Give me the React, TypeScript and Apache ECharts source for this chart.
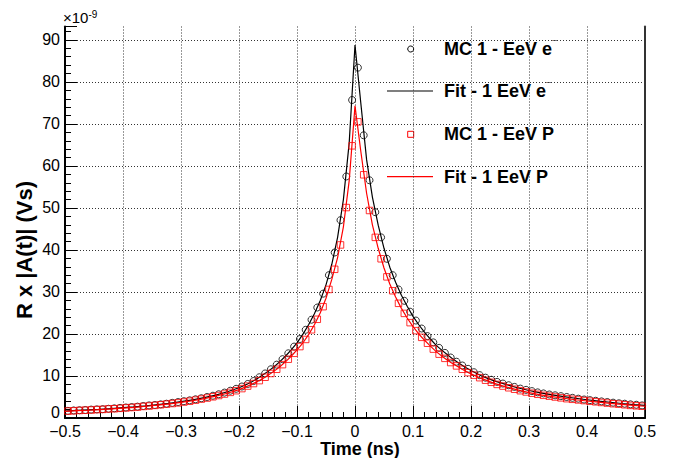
import React, { useEffect, useRef } from "react";
import * as echarts from "echarts";

// MC sample times (ns)
const mcTime = [
  -0.495, -0.485, -0.475, -0.465, -0.455, -0.445, -0.435, -0.425, -0.415, -0.405,
  -0.395, -0.385, -0.375, -0.365, -0.355, -0.345, -0.335, -0.325, -0.315, -0.305,
  -0.295, -0.285, -0.275, -0.265, -0.255, -0.245, -0.235, -0.225, -0.215, -0.205,
  -0.195, -0.185, -0.175, -0.165, -0.155, -0.145, -0.135, -0.125, -0.115, -0.105,
  -0.095, -0.085, -0.075, -0.065, -0.055, -0.045, -0.035, -0.025, -0.015, -0.005,
  0.005, 0.015, 0.025, 0.035, 0.045, 0.055, 0.065, 0.075, 0.085, 0.095,
  0.105, 0.115, 0.125, 0.135, 0.145, 0.155, 0.165, 0.175, 0.185, 0.195,
  0.205, 0.215, 0.225, 0.235, 0.245, 0.255, 0.265, 0.275, 0.285, 0.295,
  0.305, 0.315, 0.325, 0.335, 0.345, 0.355, 0.365, 0.375, 0.385, 0.395,
  0.405, 0.415, 0.425, 0.435, 0.445, 0.455, 0.465, 0.475, 0.485, 0.495,
];

// MC 1 - EeV e- (x1e-9 Vs)
const mcElectron = [
  1.7, 1.8, 1.85, 1.9, 2.0, 2.05, 2.1, 2.2, 2.3, 2.4,
  2.5, 2.6, 2.7, 2.85, 3.0, 3.1, 3.25, 3.4, 3.6, 3.8,
  4.0, 4.2, 4.45, 4.7, 5.0, 5.3, 5.65, 6.05, 6.5, 6.95,
  7.5, 8.1, 8.8, 9.7, 10.6, 11.6, 12.7, 14.0, 15.4, 17.0,
  18.8, 21.0, 23.4, 26.3, 29.6, 34.0, 39.4, 47.1, 57.5, 75.7,
  83.4, 67.3, 56.6, 49.0, 43.0, 37.9, 34.0, 30.6, 27.9, 25.3,
  23.2, 21.3, 19.5, 18.0, 16.7, 15.5, 14.4, 13.4, 12.5, 11.7,
  10.9, 10.2, 9.6, 9.1, 8.6, 8.2, 7.8, 7.4, 7.0, 6.7,
  6.4, 6.1, 5.85, 5.6, 5.4, 5.2, 5.0, 4.8, 4.6, 4.4,
  4.25, 4.1, 3.95, 3.8, 3.65, 3.5, 3.4, 3.25, 3.15, 3.0,
];

// MC 1 - EeV P (x1e-9 Vs)
const mcProton = [
  1.65, 1.7, 1.8, 1.85, 1.9, 2.0, 2.05, 2.15, 2.2, 2.3,
  2.4, 2.5, 2.6, 2.75, 2.85, 3.0, 3.15, 3.3, 3.45, 3.6,
  3.8, 4.0, 4.25, 4.5, 4.75, 5.05, 5.35, 5.7, 6.1, 6.5,
  7.0, 7.6, 8.2, 8.9, 9.7, 10.6, 11.6, 12.7, 14.0, 15.4,
  17.0, 18.7, 21.0, 23.5, 26.5, 30.6, 35.4, 41.2, 50.1, 64.8,
  70.5, 57.9, 49.4, 43.0, 37.9, 33.6, 30.3, 27.3, 24.9, 22.7,
  20.8, 19.2, 17.8, 16.4, 15.2, 14.2, 13.2, 12.4, 11.6, 10.8,
  10.2, 9.6, 9.0, 8.5, 8.0, 7.6, 7.2, 6.85, 6.5, 6.2,
  5.9, 5.65, 5.4, 5.2, 5.0, 4.8, 4.6, 4.45, 4.3, 4.15,
  4.0, 3.85, 3.7, 3.55, 3.4, 3.3, 3.15, 3.0, 2.9, 2.8,
];

// Fit curve sample times (ns)
const fitTime = [
  -0.5, -0.48, -0.46, -0.44, -0.42, -0.4, -0.38, -0.36, -0.34, -0.32, -0.3, -0.28, -0.26, -0.24, -0.22, -0.2,
  -0.19, -0.18, -0.17, -0.16, -0.15, -0.14, -0.13, -0.12, -0.11, -0.1, -0.09, -0.08, -0.07, -0.06, -0.05, -0.04, -0.03, -0.02, -0.01,
  0,
  0.01, 0.02, 0.03, 0.04, 0.05, 0.06, 0.07, 0.08, 0.09, 0.1, 0.11, 0.12, 0.13, 0.14, 0.15, 0.16, 0.17, 0.18, 0.19,
  0.2, 0.22, 0.24, 0.26, 0.28, 0.3, 0.32, 0.34, 0.36, 0.38, 0.4, 0.42, 0.44, 0.46, 0.48, 0.5,
];

// Fit - 1 EeV e-
const fitElectron = [
  1.65, 1.8, 1.95, 2.05, 2.25, 2.45, 2.65, 2.9, 3.2, 3.5, 3.9, 4.3, 4.85, 5.45, 6.25, 7.2,
  7.8, 8.45, 9.25, 10.15, 11.1, 12.15, 13.35, 14.7, 16.2, 17.9, 19.9, 22.2, 24.8, 27.9, 31.7, 36.6, 43.0, 52.0, 65.5,
  88.8,
  75.0, 61.5, 52.6, 45.9, 40.4, 35.9, 32.3, 29.2, 26.6, 24.2, 22.2, 20.4, 18.8, 17.3, 16.1, 15.0, 13.9, 12.95, 12.1,
  11.3, 9.9, 8.85, 8.0, 7.2, 6.55, 6.0, 5.5, 5.1, 4.7, 4.35, 4.0, 3.75, 3.45, 3.2, 3.0,
];

// Fit - 1 EeV P
const fitProton = [
  1.6, 1.75, 1.85, 2.0, 2.15, 2.35, 2.55, 2.8, 3.05, 3.35, 3.7, 4.1, 4.6, 5.2, 5.9, 6.75,
  7.3, 7.9, 8.55, 9.3, 10.15, 11.1, 12.15, 13.35, 14.7, 16.2, 17.85, 19.85, 22.2, 25.0, 28.5, 33.0, 38.2, 45.5, 56.5,
  74.3,
  63.5, 53.5, 46.0, 40.4, 35.7, 31.9, 28.8, 26.1, 23.8, 21.75, 20.0, 18.5, 17.1, 15.8, 14.7, 13.7, 12.8, 12.0, 11.2,
  10.5, 9.3, 8.25, 7.4, 6.7, 6.05, 5.5, 5.1, 4.7, 4.35, 4.05, 3.8, 3.5, 3.25, 3.0, 2.8,
];

const legendNames = ["MC 1 - EeV e", "Fit - 1 EeV e", "MC 1 - EeV P", "Fit - 1 EeV P"];
const FONT = "'Liberation Sans', Arial, Helvetica, sans-serif";

export default function App() {
  const ref = useRef<HTMLDivElement>(null);

  useEffect(() => {
    if (!ref.current) return;
    const chart = echarts.init(ref.current, null, { renderer: "svg" });

    const zip = (xs: number[], ys: number[]) => xs.map((x, i) => [x, ys[i]]);
    const grid = { color: "#333", type: [1, 2] as number[], width: 1 };

    const legendText = (y: number, label: string, sup: boolean) => ({
      type: "text",
      x: 444,
      y,
      style: {
        text: sup ? `{a|${label}}{b|¯}` : `{a|${label}}`,
        align: "left",
        verticalAlign: "middle",
        rich: {
          a: { fontSize: 18, fontWeight: "bold", fontFamily: FONT, fill: "#000" },
          b: { fontSize: 10, fontWeight: "bold", fontFamily: FONT, fill: "#000", verticalAlign: "top" },
        },
      },
    });

    chart.setOption({
      animation: false,
      backgroundColor: "#fff",
      grid: { left: 65, right: 38, top: 26.5, bottom: 40 },
      xAxis: {
        type: "value",
        min: -0.5,
        max: 0.5,
        interval: 0.1,
        axisLine: { show: true, onZero: false, lineStyle: { color: "#000", width: 2 } },
        axisTick: { show: true, inside: true, length: 12, lineStyle: { color: "#000", width: 1 } },
        minorTick: { show: true, splitNumber: 5, length: 6, lineStyle: { color: "#000", width: 1 } },
        axisLabel: {
          margin: 6,
          fontSize: 16,
          lineHeight: 15,
          fontFamily: FONT,
          color: "#000",
          formatter: (v: number) =>
            Math.abs(v) < 1e-9 ? "0" : (v < 0 ? "\u2212" : "") + Math.abs(v).toFixed(1),
        },
        splitLine: { show: true, showMinLine: false, showMaxLine: false, lineStyle: grid },
      },
      yAxis: [
        {
          type: "value",
          min: 0,
          max: 93.2,
          interval: 10,
          axisLine: { show: true, onZero: false, lineStyle: { color: "#000", width: 2 } },
          axisTick: { show: true, inside: true, length: 12, lineStyle: { color: "#000", width: 1 } },
          minorTick: { show: true, splitNumber: 5, length: 6, lineStyle: { color: "#000", width: 1 } },
          axisLabel: {
            margin: 5,
            fontSize: 16,
            lineHeight: 13,
            fontFamily: FONT,
            color: "#000",
            showMaxLabel: false,
            formatter: (v: number) => (Math.round(v) === 0 ? "{z|0}" : String(Math.round(v))),
            rich: {
              z: { fontSize: 16, lineHeight: 13, fontFamily: FONT, color: "#000", padding: [0, 0, 12, 0] },
            },
          },
          splitLine: { show: true, showMinLine: false, showMaxLine: false, lineStyle: grid },
        },
        {
          type: "value",
          min: 0,
          max: 93.2,
          position: "right",
          axisLine: { show: true, onZero: false, lineStyle: { color: "#333", width: 2 } },
          axisTick: { show: false },
          axisLabel: { show: false },
          splitLine: { show: false },
        },
      ],
      series: [
        {
          name: legendNames[0],
          type: "scatter",
          symbol: "circle",
          symbolSize: 7,
          data: zip(mcTime, mcElectron),
          itemStyle: { color: "rgba(0,0,0,0)", borderColor: "#000", borderWidth: 1 },
          z: 2,
        },
        {
          name: legendNames[1],
          type: "line",
          showSymbol: false,
          data: zip(fitTime, fitElectron),
          lineStyle: { color: "#000", width: 1.2 },
          z: 3,
        },
        {
          name: legendNames[2],
          type: "scatter",
          symbol: "rect",
          symbolSize: 6.5,
          data: zip(mcTime, mcProton),
          itemStyle: { color: "rgba(0,0,0,0)", borderColor: "#ff0000", borderWidth: 1 },
          z: 4,
        },
        {
          name: legendNames[3],
          type: "line",
          showSymbol: false,
          data: zip(fitTime, fitProton),
          lineStyle: { color: "#ff0000", width: 1.2 },
          z: 5,
        },
      ],
      graphic: [
        {
          type: "text",
          x: 63,
          y: 17,
          style: {
            text: "{a|\u00d710}{b|-9}",
            align: "left",
            verticalAlign: "middle",
            rich: {
              a: { fontSize: 15, fontFamily: FONT, fill: "#000" },
              b: { fontSize: 10, fontFamily: FONT, fill: "#000", verticalAlign: "top" },
            },
          },
        },
        {
          type: "text",
          x: 360,
          y: 449,
          style: {
            text: "Time (ns)",
            fontSize: 18,
            lineHeight: 15,
            fontWeight: "bold",
            fontFamily: FONT,
            fill: "#000",
            align: "center",
            verticalAlign: "middle",
          },
        },
        {
          type: "text",
          x: 24,
          y: 250,
          rotation: Math.PI / 2,
          style: {
            text: "R x |A(t)| (Vs)",
            fontSize: 22,
            fontWeight: "bold",
            fontFamily: FONT,
            fill: "#000",
            align: "center",
            verticalAlign: "middle",
          },
        },
        {
          type: "circle",
          shape: { cx: 410.7, cy: 49, r: 3 },
          style: { fill: "none", stroke: "#000", lineWidth: 1 },
        },
        legendText(49, legendNames[0], true),
        {
          type: "line",
          shape: { x1: 387, y1: 91, x2: 433, y2: 91 },
          style: { stroke: "#000", lineWidth: 1.2 },
        },
        legendText(91, legendNames[1], true),
        {
          type: "rect",
          shape: { x: 407.7, y: 131.3, width: 6, height: 6 },
          style: { fill: "none", stroke: "#ff0000", lineWidth: 1 },
        },
        legendText(134.3, legendNames[2], false),
        {
          type: "line",
          shape: { x1: 387, y1: 176.7, x2: 433, y2: 176.7 },
          style: { stroke: "#ff0000", lineWidth: 1.2 },
        },
        legendText(176.7, legendNames[3], false),
      ],
    });

    return () => chart.dispose();
  }, []);

  return (
    <div
      ref={ref}
      style={{ position: "fixed", left: 0, top: 0, width: 683, height: 458, background: "#fff" }}
    />
  );
}
